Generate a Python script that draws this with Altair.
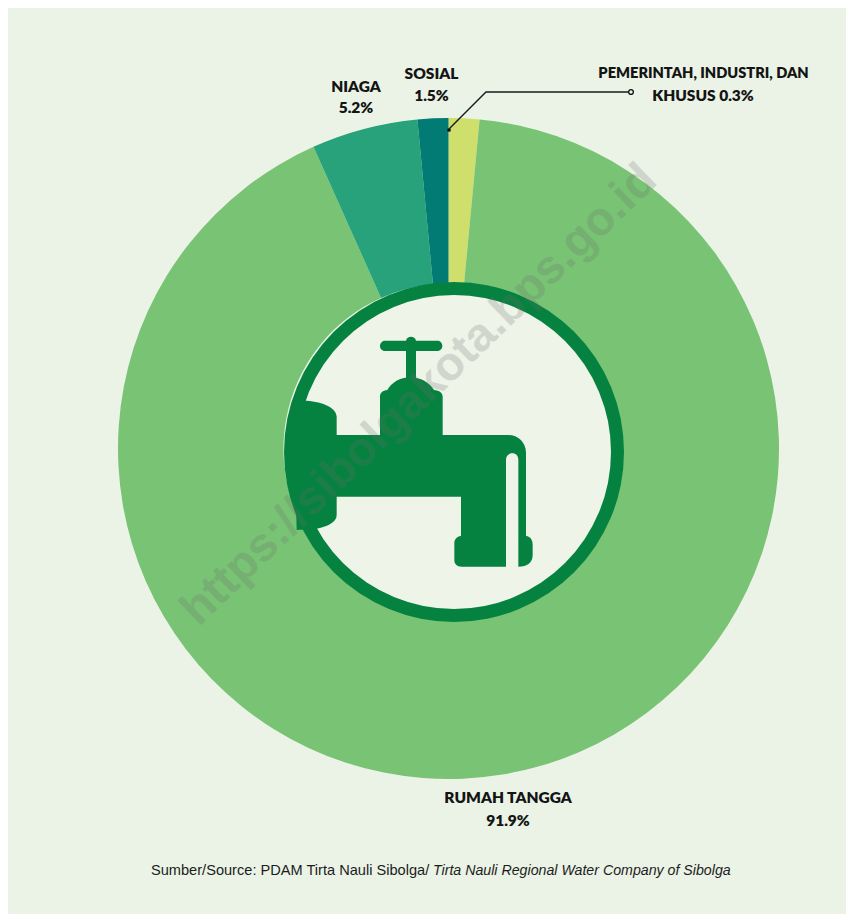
import altair as alt
import pandas as pd

# Drawn wedge shares, clockwise from 12 o'clock
seg_names = ["Pemerintah, Industri, dan Khusus", "Rumah Tangga", "Niaga", "Sosial"]
seg_values = [1.5, 91.8, 5.2, 1.5]
seg_colors = ["#CEDF6B", "#78C374", "#27A27A", "#027B75"]
seg_order = [0, 1, 2, 3]

label_text = ["KHUSUS 0.3%", "SOSIAL", "1.5%", "NIAGA", "5.2%", "RUMAH TANGGA", "91.9%"]
label_x = [703, 431.5, 431.5, 356, 356, 508, 508]
label_y = [96, 74, 96, 87, 108, 798, 821]

long_text = ["PEMERINTAH, INDUSTRI, DAN"]
long_x = [703.5]
long_y = [74]

leader_x = [449, 486, 628]
leader_y = [129, 92, 92]

BG = "#EAF3E6"
INNER = "#EEF4E8"
DARK = "#05823F"
FW, FH = 838, 906
PX = alt.Scale(domain=[8, 846], range=[0, FW])
PY = alt.Scale(domain=[8, 914], range=[0, FH])

faucet = ("M70 392L110 392C160 395 200 415 200 440L200 495L330 495L330 380C330 368 338 362 352 360"
          "C365 338 390 322 420 322C452 322 478 338 492 360C508 362 518 368 518 380L518 495L715 495"
          "C745 495 768 518 768 548L768 798C782 800 788 810 788 825L788 855C788 878 772 890 745 890"
          "L745 570C745 558 738 550 727 550C715 550 708 558 708 570L708 890L575 890C560 890 553 882 553 870"
          "L553 820C553 808 560 800 573 798L573 680L200 680L200 735C200 755 175 770 140 776L80 780Z"
          "M408 240L438 240L438 330L408 330Z"
          "M345 212L408 212C410 203 416 200 423 200C430 200 436 203 438 212L503 212C512 212 517 220 517 228"
          "C517 236 510 243 503 243L345 243C336 243 330 236 330 228C330 220 336 212 345 212Z")

seg = pd.DataFrame({"name": seg_names, "value": seg_values, "o": seg_order})
lab = pd.DataFrame({"t": label_text, "x": label_x, "y": label_y})
lab2 = pd.DataFrame({"t": long_text, "x": long_x, "y": long_y})
lead = pd.DataFrame({"x": leader_x, "y": leader_y, "o": range(3)})
one = pd.DataFrame({"a": [1]})

def cx(v): return alt.value(v - 8)

pie = alt.Chart(seg).mark_arc(radius=330.5, radius2=165, stroke=None).encode(
    theta=alt.Theta("value:Q", stack=True),
    order=alt.Order("o:Q"),
    color=alt.Color("name:N", scale=alt.Scale(domain=seg_names, range=seg_colors), legend=None),
    x=cx(448.5), y=cx(448.5),
)
ring = alt.Chart(one).mark_arc(radius=170, radius2=0, theta=0, theta2=6.2832, color=DARK).encode(x=cx(454), y=cx(452))
hole = alt.Chart(one).mark_arc(radius=157, radius2=0, theta=0, theta2=6.2832, color=INNER).encode(x=cx(454), y=cx(452))
tap = alt.Chart(one).mark_point(shape=faucet, filled=True, size=4/9, color=DARK, opacity=1).encode(x=cx(270), y=cx(270))

labels = alt.Chart(lab).mark_text(font="Lato", fontWeight=800, fontSize=15.5, color="#141414").encode(
    x=alt.X("x:Q", scale=PX, axis=None), y=alt.Y("y:Q", scale=PY, axis=None), text="t:N")
labels2 = alt.Chart(lab2).mark_text(font="Lato", fontWeight=800, fontSize=14.6, color="#141414").encode(
    x=alt.X("x:Q", scale=PX, axis=None), y=alt.Y("y:Q", scale=PY, axis=None), text="t:N")

line = alt.Chart(lead).mark_line(color="#1a1a1a", strokeWidth=1.4).encode(
    x=alt.X("x:Q", scale=PX, axis=None), y=alt.Y("y:Q", scale=PY, axis=None), order="o:Q")
dot = alt.Chart(one).mark_point(shape="circle", filled=True, size=14, color="#111111", opacity=1).encode(x=cx(449), y=cx(130))
ringdot = alt.Chart(one).mark_point(shape="circle", filled=True, size=22, fill=BG, stroke="#111111", strokeWidth=1.4, opacity=1).encode(x=cx(631), y=cx(92))

src1 = alt.Chart(pd.DataFrame({"t": ["Sumber/Source:  PDAM Tirta Nauli Sibolga/"]})).mark_text(
    font="Liberation Sans", fontSize=14.6, align="left", color="#1c1c1c").encode(x=cx(151), y=cx(871), text="t:N")
src2 = alt.Chart(pd.DataFrame({"t": ["Tirta Nauli Regional Water Company of Sibolga"]})).mark_text(
    font="Liberation Sans", fontSize=14.2, fontStyle="italic", align="left", color="#1c1c1c").encode(x=cx(433), y=cx(871), text="t:N")

mark = alt.Chart(pd.DataFrame({"t": ["https://sibolgakota.bps.go.id"]})).mark_text(
    font="Liberation Sans", fontWeight="bold", fontSize=47, angle=316, color="#6f6f6f", opacity=0.22).encode(
    x=cx(419), y=cx(395), text="t:N")

chart = alt.layer(pie, ring, hole, tap, line, dot, ringdot, labels, labels2, src1, src2, mark).properties(
    width=FW, height=FH, padding=0, background="white",
    autosize=alt.AutoSizeParams(type="none"),
).configure_view(fill=BG, stroke=None)

chart.save("out.html", embed_options={"renderer": "svg", "actions": False})
